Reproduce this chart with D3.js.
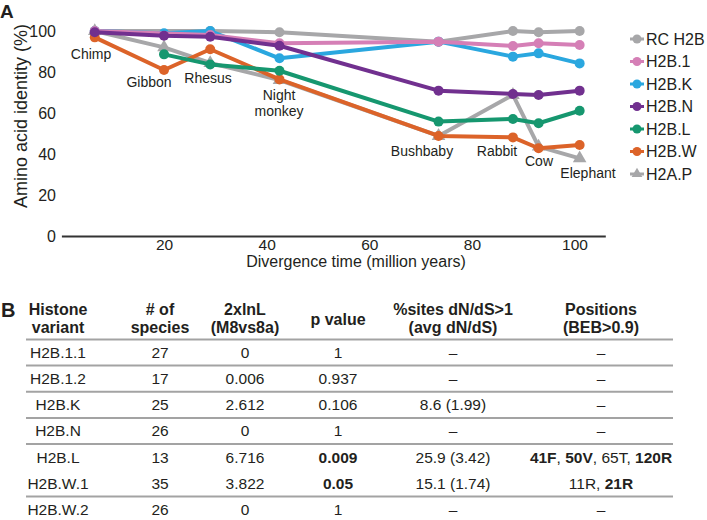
<!DOCTYPE html>
<html>
<head>
<meta charset="utf-8">
<script src="https://cdn.jsdelivr.net/npm/d3@7"></script>
<style>
  html, body { margin: 0; padding: 0; background: #ffffff; }
  svg { display: block; font-family: "Liberation Sans", Arial, Helvetica, sans-serif; }
</style>
</head>
<body>
<svg id="chart" width="707" height="520"></svg>
<script>
// ---------- Panel A data ----------
const species = ["Chimp", "Gibbon", "Rhesus", "Night monkey", "Bushbaby", "Rabbit", "Cow", "Elephant"];
const divergence = [6.5, 20, 29, 42.5, 73.5, 88, 93, 101];

const seriesNames = ["RC H2B", "H2B.1", "H2B.K", "H2B.N", "H2B.L", "H2B.W", "H2A.P"];
const rcH2B = [100, null, 100, 99.4, 94.8, 100, 99.4, 100];
const h2b1  = [100, null, 98, 94, 94.8, 92.7, 94, 93.2];
const h2bK  = [100, 98.9, 100, 86.7, 94.8, 87.5, 89.1, 84.2];
const h2bN  = [99.4, 97.7, 97.2, 92.8, 70.9, 69.3, 68.8, 70.9];
const h2bL  = [null, 88.6, 83.7, 80.6, 55.8, 57.1, 55, 61.1];
const h2bW  = [96.9, 81, 91.1, 76.4, 48.8, 48.1, 42.8, 44.4];
const h2aP  = [100, 92, 84.4, 76.1, 48.8, 68.8, 43.6, 37.9];

const xTicks = [20, 40, 60, 80, 100];
const yTicks = [0, 20, 40, 60, 80, 100];

// ---------- Panel B data ----------
const tableHeaders = [["Histone", "variant"], ["# of", "species"], ["2xlnL", "(M8vs8a)"], ["p value"], ["%sites dN/dS>1", "(avg dN/dS)"], ["Positions", "(BEB>0.9)"]];
const variants  = ["H2B.1.1", "H2B.1.2", "H2B.K", "H2B.N", "H2B.L", "H2B.W.1", "H2B.W.2"];
const nSpecies  = ["27", "17", "25", "26", "13", "35", "26"];
const lnL       = ["0", "0.006", "2.612", "0", "6.716", "3.822", "0"];
const pValues   = ["1", "0.937", "0.106", "1", "0.009", "0.05", "1"];
const sitesDnDs = ["–", "–", "8.6 (1.99)", "–", "25.9 (3.42)", "15.1 (1.74)", "–"];
// positions: [site, significant(bold)]
const bebSites  = [[], [], [], [], [["41F", 1], ["50V", 1], ["65T", 0], ["120R", 1]], [["11R", 0], ["21R", 1]], []];

// ---------- Styles ----------
const colors = {
  "RC H2B": "#a7a7a9", "H2B.1": "#d57fb6", "H2B.K": "#2aa7df", "H2B.N": "#71308f",
  "H2B.L": "#16976f", "H2B.W": "#dc6329", "H2A.P": "#a7a7a9"
};
const textColor = "#231f20";

const svg = d3.select("#chart");

// ---------- Panel A ----------
const x = d3.scaleLinear().domain([0, 106]).range([61.4, 605.3]);
const y = d3.scaleLinear().domain([0, 100]).range([236, 31]);

const xAxis = svg.append("g").attr("transform", `translate(0,${y(0)})`)
  .call(d3.axisBottom(x).tickValues(xTicks).tickSize(0).tickSizeOuter(0).tickPadding(2.5));
xAxis.select(".domain").attr("stroke", "#333").attr("stroke-width", 2);
xAxis.selectAll("text").attr("font-size", 15.5).attr("fill", textColor).attr("font-family", null);

const yAxis = svg.append("g").attr("transform", `translate(62,0)`)
  .call(d3.axisLeft(y).tickValues(yTicks).tickSize(0).tickPadding(6));
yAxis.select(".domain").remove();
yAxis.selectAll("text").attr("font-size", 16).attr("fill", textColor).attr("font-family", null);

svg.append("text").attr("x", 356).attr("y", 267).attr("text-anchor", "middle")
  .attr("font-size", 16).attr("fill", textColor).text("Divergence time (million years)");
svg.append("text").attr("transform", "translate(27,116) rotate(-90)").attr("text-anchor", "middle")
  .attr("font-size", 18).attr("fill", textColor).text("Amino acid identity (%)");

svg.append("text").attr("x", 0).attr("y", 17.5).attr("font-size", 19).attr("font-weight", "bold")
  .attr("fill", textColor).text("A");

const seriesValues = {
  "RC H2B": rcH2B, "H2B.1": h2b1, "H2B.K": h2bK, "H2B.N": h2bN,
  "H2B.L": h2bL, "H2B.W": h2bW, "H2A.P": h2aP
};
const drawOrder = ["H2A.P", "RC H2B", "H2B.W", "H2B.L", "H2B.K", "H2B.1", "H2B.N"];
const line = d3.line().x(d => x(d.t)).y(d => y(d.v));
const tri = d3.symbol().type(d3.symbolTriangle).size(80);

drawOrder.forEach(name => {
  const pts = seriesValues[name].map((v, i) => ({ t: divergence[i], v })).filter(d => d.v != null);
  const g = svg.append("g");
  g.append("path").datum(pts).attr("d", line).attr("fill", "none")
    .attr("stroke", colors[name]).attr("stroke-width", 4).attr("stroke-linejoin", "round");
  if (name === "H2A.P") {
    g.selectAll("path.m").data(pts).enter().append("path").attr("class", "m")
      .attr("d", tri).attr("transform", d => `translate(${x(d.t)},${y(d.v)})`).attr("fill", colors[name]);
  } else {
    g.selectAll("circle").data(pts).enter().append("circle")
      .attr("cx", d => x(d.t)).attr("cy", d => y(d.v)).attr("r", 5).attr("fill", colors[name]);
  }
});

// species labels
const speciesLabelPos = {
  "Chimp": [91, 59], "Gibbon": [149, 87], "Rhesus": [208, 82.5], "Night monkey": [279, 100],
  "Bushbaby": [422, 156], "Rabbit": [497, 156], "Cow": [539, 165.5], "Elephant": [588, 178]
};
species.forEach(s => {
  const [lx, ly] = speciesLabelPos[s];
  const t = svg.append("text").attr("x", lx).attr("y", ly).attr("text-anchor", "middle")
    .attr("font-size", 14).attr("fill", textColor);
  if (s === "Night monkey") {
    t.append("tspan").attr("x", lx).text("Night");
    t.append("tspan").attr("x", lx).attr("dy", 16).text("monkey");
  } else {
    t.text(s);
  }
});

// legend
const legend = svg.append("g").attr("transform", "translate(630,39)");
seriesNames.forEach((name, i) => {
  const g = legend.append("g").attr("transform", `translate(0,${i * 22.5})`);
  g.append("line").attr("x1", 0).attr("x2", 14).attr("y1", 0).attr("y2", 0)
    .attr("stroke", colors[name]).attr("stroke-width", 3);
  if (name === "H2A.P") {
    g.append("path").attr("d", d3.symbol().type(d3.symbolTriangle).size(50)).attr("transform", "translate(7,0)").attr("fill", colors[name]);
  } else {
    g.append("circle").attr("cx", 7).attr("cy", 0).attr("r", 4.5).attr("fill", colors[name]);
  }
  g.append("text").attr("x", 16).attr("y", 0).attr("dy", "0.36em").attr("font-size", 16)
    .attr("fill", textColor).text(name);
});

// ---------- Panel B ----------
svg.append("text").attr("x", 1).attr("y", 317).attr("font-size", 20).attr("font-weight", "bold")
  .attr("fill", textColor).text("B");

const colX = [58, 160, 245, 338, 453, 601];
const tableLeft = 26, tableRight = 673;
const rowY = d3.scalePoint().domain(variants).range([352.5, 509.5]);
const step = rowY.step();

// headers
tableHeaders.forEach((lines, c) => {
  const t = svg.append("text").attr("text-anchor", "middle").attr("font-size", 16)
    .attr("font-weight", "bold").attr("fill", textColor);
  if (lines.length === 1) {
    t.append("tspan").attr("x", colX[c]).attr("y", 325).text(lines[0]);
  } else {
    t.append("tspan").attr("x", colX[c]).attr("y", 315).text(lines[0]);
    t.append("tspan").attr("x", colX[c]).attr("y", 333).text(lines[1]);
  }
});

// rules
const rule = yy => svg.append("line").attr("x1", tableLeft).attr("x2", tableRight)
  .attr("y1", yy).attr("y2", yy).attr("stroke", "#a3a3a3").attr("stroke-width", 2);
rule(rowY(variants[0]) - step / 2);
variants.forEach((v, i) => {
  if (i < variants.length - 1 && v !== "H2B.L") rule(rowY(v) + step / 2);
});

// cells
variants.forEach((v, i) => {
  const cy = rowY(v);
  const cell = (c, txt, bold) => svg.append("text").attr("x", colX[c]).attr("y", cy)
    .attr("dy", "0.35em").attr("text-anchor", "middle").attr("font-size", 15.5)
    .attr("font-weight", bold ? "bold" : "normal").attr("fill", textColor).text(txt);
  cell(0, v, false);
  cell(1, nSpecies[i], false);
  cell(2, lnL[i], false);
  cell(3, pValues[i], +pValues[i] <= 0.05);
  cell(4, sitesDnDs[i], false);
  const sites = bebSites[i];
  const t = svg.append("text").attr("x", colX[5]).attr("y", cy).attr("dy", "0.35em")
    .attr("text-anchor", "middle").attr("font-size", 15.5).attr("fill", textColor);
  if (sites.length === 0) {
    t.text("–");
  } else {
    sites.forEach((s, k) => {
      t.append("tspan").attr("font-weight", s[1] ? "bold" : "normal").text(s[0]);
      if (k < sites.length - 1) t.append("tspan").attr("font-weight", "normal").text(", ");
    });
  }
});
</script>
</body>
</html>
